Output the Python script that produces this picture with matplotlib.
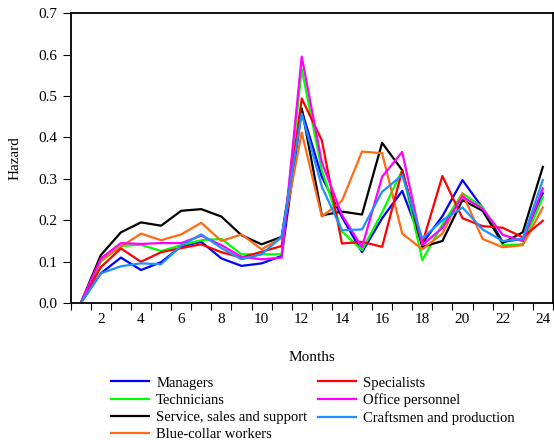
import matplotlib
matplotlib.use("Agg")
import matplotlib.pyplot as plt

plt.rcParams['font.family'] = ['Liberation Serif', 'DejaVu Serif']

months = list(range(1, 25))

managers = [0, 0.072, 0.110, 0.080, 0.099, 0.137, 0.148, 0.108, 0.090, 0.096, 0.114, 0.465,
            0.305, 0.208, 0.123, 0.205, 0.271, 0.144, 0.210, 0.297, 0.230, 0.148, 0.155, 0.265]
specialists = [0, 0.087, 0.132, 0.100, 0.123, 0.133, 0.142, 0.123, 0.110, 0.124, 0.138, 0.494,
               0.393, 0.144, 0.148, 0.136, 0.320, 0.144, 0.307, 0.205, 0.186, 0.182, 0.159, 0.199]
technicians = [0, 0.100, 0.138, 0.141, 0.126, 0.140, 0.152, 0.155, 0.118, 0.118, 0.118, 0.565,
               0.321, 0.173, 0.128, 0.219, 0.321, 0.104, 0.190, 0.265, 0.232, 0.140, 0.142, 0.256]
office = [0, 0.108, 0.145, 0.143, 0.145, 0.145, 0.163, 0.140, 0.112, 0.106, 0.110, 0.595,
          0.340, 0.213, 0.135, 0.305, 0.365, 0.140, 0.182, 0.257, 0.228, 0.165, 0.150, 0.277]
service = [0, 0.116, 0.171, 0.195, 0.187, 0.223, 0.227, 0.209, 0.164, 0.142, 0.160, 0.470,
           0.212, 0.221, 0.214, 0.387, 0.321, 0.136, 0.150, 0.249, 0.223, 0.145, 0.171, 0.329]
craftsmen = [0, 0.072, 0.089, 0.096, 0.094, 0.139, 0.166, 0.133, 0.106, 0.118, 0.160, 0.458,
             0.281, 0.176, 0.178, 0.269, 0.309, 0.156, 0.200, 0.231, 0.178, 0.150, 0.155, 0.297]
bluecollar = [0, 0.104, 0.136, 0.168, 0.152, 0.166, 0.194, 0.150, 0.166, 0.130, 0.158, 0.412,
              0.209, 0.247, 0.366, 0.362, 0.168, 0.130, 0.168, 0.265, 0.155, 0.135, 0.140, 0.231]

# legend fills column by column, so this order gives the reference layout
series = [
    ("Managers", managers, "#0000ff"),
    ("Technicians", technicians, "#00ff00"),
    ("Service, sales and support", service, "#000000"),
    ("Blue-collar workers", bluecollar, "#ff6a13"),
    ("Specialists", specialists, "#ff0000"),
    ("Office personnel", office, "#ff00ff"),
    ("Craftsmen and production", craftsmen, "#1e90ff"),
]

fig = plt.figure(figsize=(5.54, 4.40), dpi=100)
ax = fig.add_axes([0.1276, 0.311, 0.8704, 0.659])

for name, vals, col in series:
    ax.plot(months, vals, color=col, lw=1.6, label=name)

ax.set_xlim(0.5, 24.5)
ax.set_ylim(0, 0.7)
ax.set_xticks([m + 0.5 for m in range(0, 25)])
ax.set_xticklabels([])
ax.set_xticks(list(range(2, 25, 2)), minor=True)
ax.set_xticklabels([str(m) for m in range(2, 25, 2)], minor=True)
ax.tick_params(axis='x', which='minor', length=0, labelsize=11, pad=7)
ax.tick_params(axis='x', which='major', length=5, direction='out')
ax.set_yticks([i / 10 for i in range(8)])
ax.set_yticklabels([f"{i / 10:.1f}" for i in range(8)])
ax.tick_params(axis='y', length=6, labelsize=11)
for s in ax.spines.values():
    s.set_linewidth(1.3)

ax.set_xlabel("Months", fontsize=11, labelpad=18)
ax.set_ylabel("Hazard", fontsize=11, labelpad=12)

fig.legend(loc='upper left', bbox_to_anchor=(0.189, 0.158), ncol=2, frameon=False,
           fontsize=10.5, handlelength=2.65, handletextpad=0.48, columnspacing=0.7,
           labelspacing=0.28, borderaxespad=0)

fig.savefig("out.png", dpi=100)
